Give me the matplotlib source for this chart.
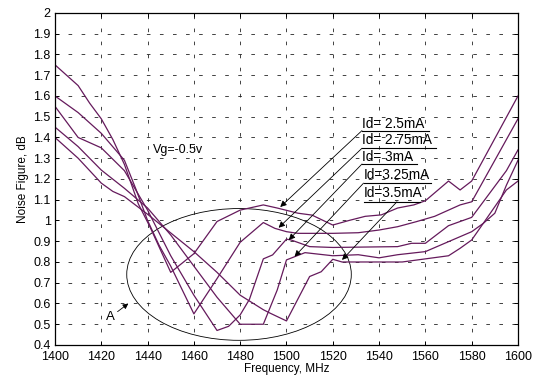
import matplotlib
matplotlib.use('Agg')
import matplotlib.pyplot as plt
from matplotlib.patches import Ellipse

plt.rcParams['font.family'] = ['Liberation Sans', 'DejaVu Sans']
plt.rcParams['lines.scale_dashes'] = False

# Noise figure curves (frequency MHz, NF dB)
f_25 = [1400, 1410, 1415, 1420, 1425, 1430, 1436, 1441, 1450, 1460, 1470, 1480, 1490, 1496, 1505,
        1511, 1520, 1527, 1534, 1541, 1548, 1555, 1560, 1570, 1575, 1580, 1600]
nf_25 = [1.75, 1.65, 1.565, 1.49, 1.39, 1.27, 1.08, 0.97, 0.75, 0.84, 0.995, 1.05, 1.075, 1.06, 1.035,
         1.026, 0.978, 1.0, 1.02, 1.027, 1.06, 1.075, 1.095, 1.19, 1.147, 1.19, 1.6]

f_275 = [1400, 1410, 1420, 1425, 1430, 1435, 1440, 1445, 1450, 1460, 1470, 1480, 1490, 1495, 1500,
         1505, 1520, 1531, 1540, 1548, 1556, 1564, 1575, 1580, 1600]
nf_275 = [1.6, 1.52, 1.42, 1.355, 1.29, 1.15, 1.0, 0.88, 0.78, 0.55, 0.72, 0.895, 0.99, 0.962, 0.946,
          0.938, 0.938, 0.941, 0.954, 0.97, 0.994, 1.02, 1.075, 1.09, 1.49]

f_3 = [1400, 1410, 1420, 1430, 1440, 1450, 1460, 1470, 1475, 1480, 1484, 1490, 1494, 1500, 1502,
       1510, 1520, 1548, 1554, 1560, 1570, 1580, 1595, 1600]
nf_3 = [1.55, 1.40, 1.35, 1.24, 1.05, 0.83, 0.64, 0.47, 0.49, 0.545, 0.62, 0.815, 0.834, 0.91, 0.906,
        0.874, 0.87, 0.874, 0.89, 0.89, 0.975, 1.015, 1.24, 1.34]

f_325 = [1400, 1410, 1420, 1430, 1440, 1450, 1460, 1470, 1480, 1490, 1496, 1500, 1508, 1520, 1531,
         1540, 1548, 1560, 1570, 1580, 1585, 1590, 1595, 1600]
nf_325 = [1.45, 1.356, 1.243, 1.155, 1.06, 0.93, 0.78, 0.63, 0.5, 0.5, 0.665, 0.81, 0.845, 0.83, 0.835,
          0.82, 0.835, 0.85, 0.898, 0.946, 0.986, 1.035, 1.17, 1.29]

f_35 = [1400, 1410, 1420, 1425, 1430, 1440, 1450, 1460, 1470, 1480, 1490, 1493, 1500, 1510, 1515,
        1520, 1524, 1530, 1550, 1560, 1570, 1575, 1580, 1585, 1595, 1600]
nf_35 = [1.4, 1.3, 1.18, 1.14, 1.115, 1.03, 0.94, 0.85, 0.75, 0.64, 0.57, 0.553, 0.516, 0.73, 0.753,
         0.813, 0.80, 0.80, 0.80, 0.815, 0.83, 0.866, 0.906, 0.986, 1.147, 1.19]

curves = [(f_25, nf_25), (f_275, nf_275), (f_3, nf_3), (f_325, nf_325), (f_35, nf_35)]

# labels: text, text anchor (f, nf), underline, arrow head (f, nf), leader start (f, nf)
id_labels = ['Id= 2.5mA', 'Id= 2.75mA', 'Id= 3mA', 'Id=3.25mA', 'Id=3.5mA\'']
label_pos = [(1532.8, 1.467), (1532.8, 1.388), (1532.8, 1.308), (1533.5, 1.218), (1533.5, 1.133)]
underline_start = [1532.6, 1532.6, 1532.6, 1533.3, 1533.3]
underline_end = [1561.5, 1564.5, 1556.5, 1562.5, 1557.5]
underline_nf = [1.433, 1.348, 1.272, 1.18, 1.09]
arrow_head = [(1497.3, 1.065), (1496.6, 0.965), (1501.0, 0.906), (1503.5, 0.826), (1524.0, 0.81)]
arrow_tail = [(1532.6, 1.433), (1532.6, 1.348), (1532.6, 1.272), (1533.3, 1.18), (1547.7, 1.09)]

xticks = list(range(1400, 1601, 20))
yticks = [0.4, 0.5, 0.6, 0.7, 0.8, 0.9, 1.0, 1.1, 1.2, 1.3, 1.4, 1.5, 1.6, 1.7, 1.8, 1.9, 2.0]
ytick_labels = ['0.4', '0.5', '0.6', '0.7', '0.8', '0.9', '1', '1.1', '1.2', '1.3', '1.4', '1.5',
                '1.6', '1.7', '1.8', '1.9', '2']

line_color = '#651a5c'

fig = plt.figure(figsize=(5.39, 3.81), dpi=100)
ax = fig.add_axes([0.102, 0.0945, 0.859, 0.8715])

for f, nf in curves:
    ax.plot(f, nf, color=line_color, lw=0.9)

ax.set_xlim(1400, 1600)
ax.set_ylim(0.4, 2.0)
ax.set_xticks(xticks)
ax.set_yticks(yticks)
ax.set_yticklabels(ytick_labels)
ax.tick_params(direction='in', top=True, right=True, length=3, width=0.7, labelsize=9)
ax.tick_params(axis='x', pad=4)
ax.tick_params(axis='y', pad=3)
ax.grid(True, color='#222222', lw=0.6, linestyle=(0, (2.6, 6.8)))
for s in ax.spines.values():
    s.set_linewidth(0.9)

ax.set_xlabel('Frequency, MHz', fontsize=8.5, labelpad=0)
ax.set_ylabel('Noise Figure, dB', fontsize=8.5, labelpad=3)

# ellipse around the minima region
ax.add_patch(Ellipse((1479.5, 0.74), 97, 0.635, fill=False, color='black', lw=0.6))
ax.annotate('A', xy=(1431.7, 0.60), xytext=(1422.0, 0.52), fontsize=9.5,
            arrowprops=dict(arrowstyle='-|>', color='black', lw=0.6, mutation_scale=8,
                            shrinkA=0, shrinkB=0))

ax.text(1442.5, 1.34, 'Vg=-0.5v', fontsize=9, va='center')

for i, lab in enumerate(id_labels):
    ax.text(label_pos[i][0], label_pos[i][1], lab, fontsize=9.8, va='center', ha='left')
    ax.plot([underline_start[i], underline_end[i]],
            [underline_nf[i], underline_nf[i]], color='black', lw=0.8)
    ax.annotate('', xy=arrow_head[i], xytext=arrow_tail[i],
                arrowprops=dict(arrowstyle='-|>', color='black', lw=0.6, mutation_scale=9,
                                shrinkA=0, shrinkB=0))

fig.savefig('out.png', dpi=100)
